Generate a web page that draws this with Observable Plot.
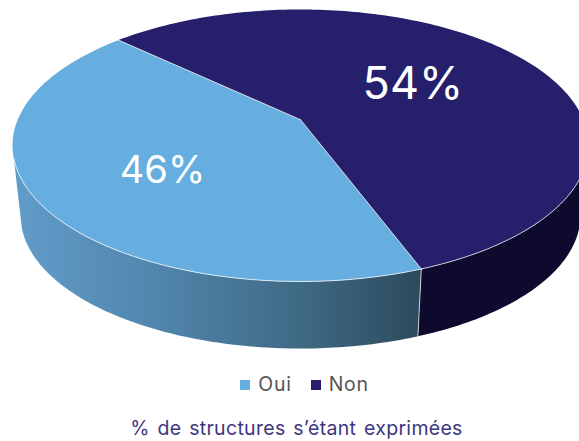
<!DOCTYPE html>
<html lang="fr">
<head>
<meta charset="utf-8">
<script src="https://cdn.jsdelivr.net/npm/d3@7"></script>
<script src="https://cdn.jsdelivr.net/npm/@observablehq/plot@0.6"></script>
<style>
  html,body{margin:0;padding:0;background:#fff;width:579px;overflow:hidden}
  svg{display:block}
  .legend{height:36px;display:flex;justify-content:center;align-items:center;gap:19px;font:19.5px/1 Inter,sans-serif;letter-spacing:.7px;color:#555;position:relative;left:15px;top:2px}
  .legend span{display:flex;align-items:center;gap:8px}
  .legend i{display:block;width:10px;height:10px}
  .caption{text-align:center;font:19.5px/1 Inter,sans-serif;letter-spacing:.3px;color:#3d367f;margin-top:18px;word-spacing:2px;position:relative;left:7px}
</style>
</head>
<body>
<div id="chart"></div>
<script>
const categories = ["Oui", "Non"];
const shares = [46, 54];
const topColors = ["#66aee0", "#261f6b"];
const wallStops = [
  [["0%", "#629cc9"], ["30%", "#5389b2"], ["70%", "#3f6a85"], ["100%", "#2d4a5d"]],
  [["0%", "#0d0a2e"], ["100%", "#0d0a2e"]]
];
const labelReach = [0.565, 0.46];
const labelShift = [10, -2];
const labelSize = [38, 45];

const rad = Math.PI / 180;
const startAngle = 65.2;
const apexY = -0.19;
const base = {cy: 0.515, rx: 0.972, ry: 0.978};
const wallFrom = 5.5, wallTo = 174.5;

const total = d3.sum(shares);
let cursor = startAngle;
const slices = categories.map((name, i) => {
  const a0 = cursor, a1 = cursor + shares[i] / total * 360;
  cursor = a1;
  return {name, i, a0, a1, mid: (a0 + a1) / 2};
});
const sweep = (a0, a1) => {
  const pts = d3.range(a0, a1, 1);
  pts.push(a1);
  return pts;
};
const rim = (a) => ({x: Math.cos(a * rad), y: Math.sin(a * rad)});
const foot = (a) => ({x: base.rx * Math.cos(a * rad), y: base.cy + base.ry * Math.sin(a * rad)});
const apex = {x: 0, y: apexY};

const face = (s) => [apex, ...sweep(s.a0, s.a1).map(rim)];
const wallRange = (s) => {
  for (const k of [0, -360]) {
    const a0 = Math.max(s.a0 + k, wallFrom), a1 = Math.min(s.a1 + k, wallTo);
    if (a1 > a0) return [a0, a1];
  }
  return null;
};
const wall = (s) => {
  const [a0, a1] = wallRange(s);
  const arc = sweep(a0, a1);
  return [...arc.map(rim), ...arc.slice().reverse().map(foot)];
};

const gradients = () => {
  const ns = "http://www.w3.org/2000/svg";
  const defs = document.createElementNS(ns, "defs");
  wallStops.forEach((stops, i) => {
    const g = document.createElementNS(ns, "linearGradient");
    g.setAttribute("id", "wall" + i);
    stops.forEach(([offset, color]) => {
      const s = document.createElementNS(ns, "stop");
      s.setAttribute("offset", offset);
      s.setAttribute("stop-color", color);
      g.appendChild(s);
    });
    defs.appendChild(g);
  });
  return defs;
};

const seamOpts = {x: "x", y: "y", stroke: "#fff", strokeOpacity: 0.72, strokeWidth: 1};
const closed = (fill) => ({x: "x", y: "y", fill, stroke: "none", curve: "linear-closed"});

const plot = Plot.plot({
  width: 579, height: 365,
  margin: 0,
  x: {domain: [-1, 1], range: [12, 588], axis: null},
  y: {domain: [-1, 1], range: [9, 281], axis: null},
  marks: [
    gradients,
    ...slices.map(s => Plot.line(wall(s), closed(`url(#wall${s.i})`))),
    ...slices.map(s => Plot.line(face(s), closed(topColors[s.i]))),
    Plot.line(sweep(wallFrom, wallTo).map(rim), seamOpts),
    ...slices.map(s => Plot.line([rim(s.a0), apex], seamOpts)),
    Plot.line([rim(slices[0].a0), foot(slices[0].a0)], seamOpts),
    ...slices.map(s => Plot.text([s], {
      x: d => labelReach[d.i] * rim(d.mid).x,
      y: d => apexY + labelReach[d.i] * rim(d.mid).y,
      dy: labelShift[s.i],
      text: d => `${shares[d.i]}%`,
      fill: "#fff",
      fontSize: labelSize[s.i],
      fontFamily: "Inter, sans-serif",
      fontWeight: 400
    }))
  ]
});
const root = document.getElementById("chart");
root.appendChild(plot);

const legend = document.createElement("div");
legend.className = "legend";
categories.forEach((c, i) => {
  const item = document.createElement("span");
  const swatch = document.createElement("i");
  swatch.style.background = topColors[i];
  item.appendChild(swatch);
  item.appendChild(document.createTextNode(c));
  legend.appendChild(item);
});
root.appendChild(legend);

const caption = document.createElement("div");
caption.className = "caption";
caption.textContent = "% de structures s’étant exprimées";
root.appendChild(caption);
</script>
</body>
</html>
